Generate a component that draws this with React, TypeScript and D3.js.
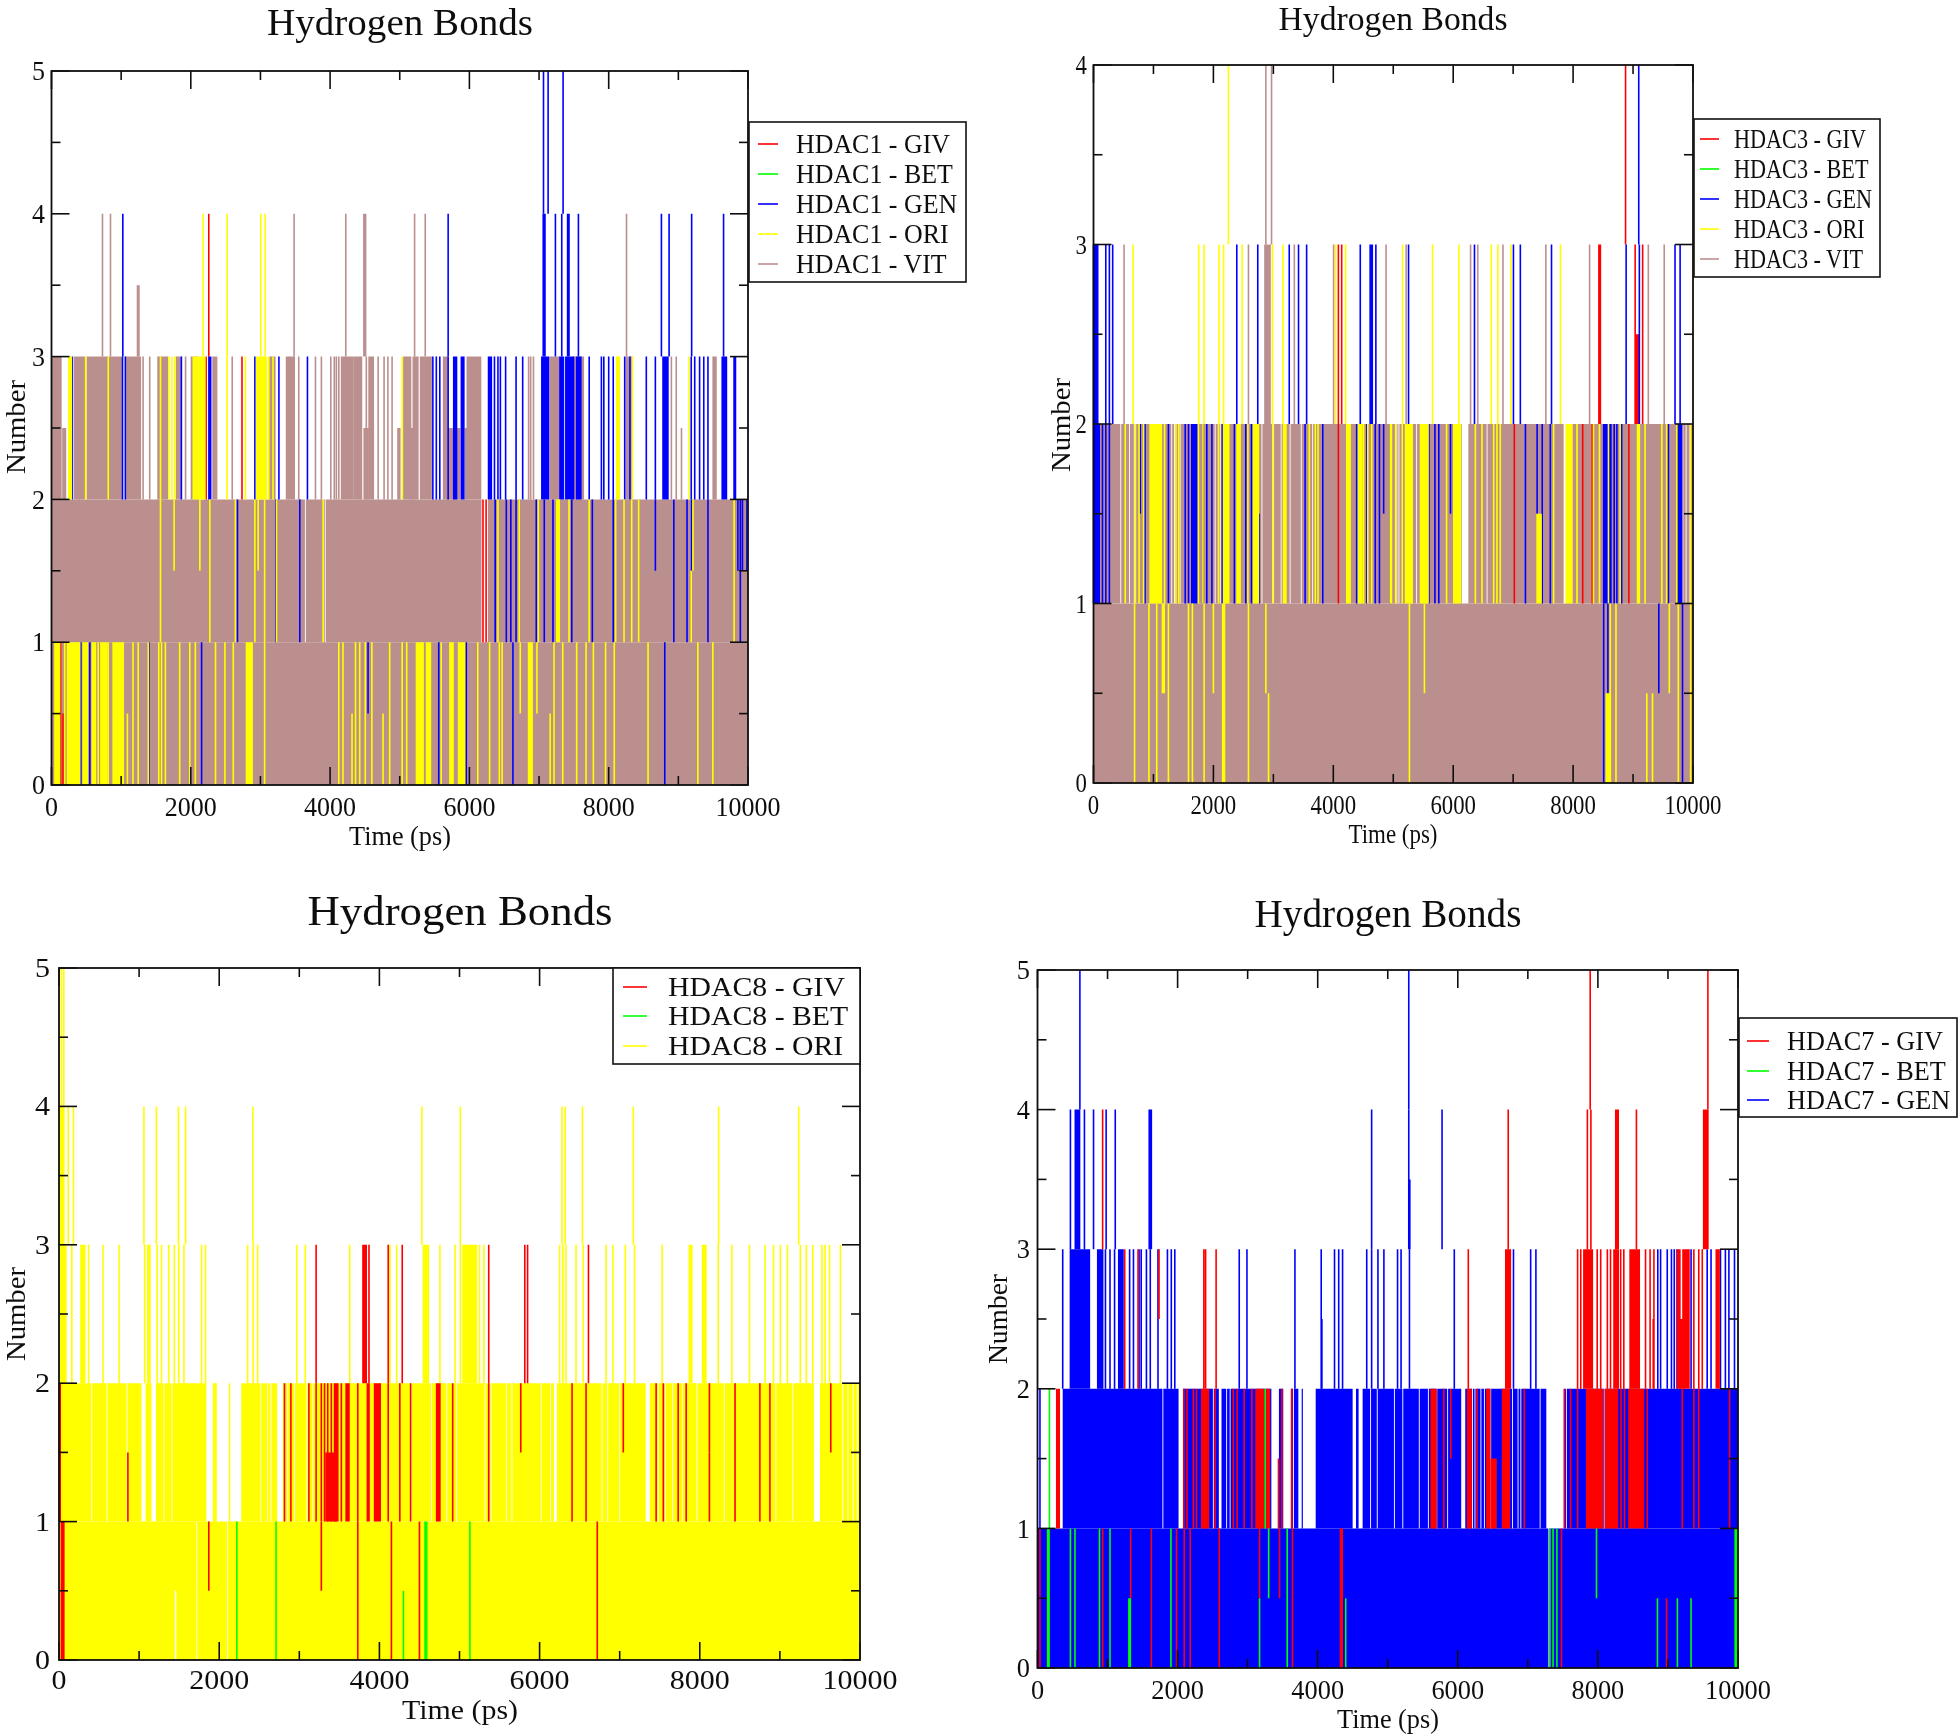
import React from "react";
import * as d3 from "d3";

type Entry = number | [number, number];
const colors: Record<string, string> = { GIV: "#ff0000", BET: "#00ff00", GEN: "#0000ff", ORI: "#ffff00", VIT: "#bc8f8f" };
const xTicks = [0, 2000, 4000, 6000, 8000, 10000];

// ---------- Panel 1 (HDAC1)
const p1Gen45: Entry[] = [7064, 7130, 7345];
const p1Vit34: Entry[] = [732, 847, 3483, 4225, [4485, 4510], 5213, 5366, 8256];
const p1Vit335: Entry[] = [[1235, 1255]];
const p1Gen34: Entry[] = [1024, 5695, [7060, 7085], 7235, 7326, [7410, 7430], 7565, 8757, 8867, 9191, 9649];
const p1Ori34: Entry[] = [2177, 2522, 3005, 3067];
const p1Giv34: Entry[] = [2258];
const p1Vit23: Entry[] = [[10, 70], [85, 135], [335, 385], [405, 470], [515, 935], [950, 1010], [1070, 1275], 1315, 1410, [1530, 1560], [1580, 1665], [1795, 1855], 1925, [2010, 2095], [2320, 2370], 2595, [3135, 3205], [3375, 3485], 3550, 3790, 3875, 4010, 4060, 4090, 4125, [4165, 4330], [4355, 4450], 4520, [4560, 4620], 4690, 4775, 4830, 4890, [5060, 5155], [5195, 5260], [5300, 5450], [5630, 5680], [5970, 6160], 6850, 6880, 6920, [7160, 7280], [7495, 7635], [8255, 8330], 8900, 8970, [9500, 9540]];
const p1Vit225: Entry[] = [[165, 200], [385, 405], [4490, 4545], [4975, 5000], [5155, 5195], [5680, 5860], [5945, 5970], 9045];
const p1Ori23: Entry[] = [[250, 285], 490, 815, 1565, 1685, 1730, 1770, [2035, 2105], [2130, 2200], 2520, 2785, [2945, 3085], 3120, 3180, 5035, [8115, 8150], 8340, 9155];
const p1Gen23: Entry[] = [300, 1020, 1060, 1865, [2260, 2285], 2920, 3265, 3675, 5475, 5525, 5575, 5695, [5775, 5815], [5885, 5920], [6275, 6315], 6360, 6410, 6445, 6520, 6670, 6765, [7040, 7135], [7300, 7350], [7385, 7495], [7540, 7600], 7720, 7895, 7930, 8000, 8065, 8230, 8305, 8540, 8670, [8780, 8850], 9185, 9235, 9305, 9365, 9425, [9630, 9690], [9800, 9820]];
const p1Giv23: Entry[] = [2220, 2735];
const p1VitGaps12: Entry[] = [3645, 3930, [6180, 6260]];
const p1Ori12: Entry[] = [1565, 2273, 2640, 2920, 3060, 3230, 3900, 6410, 6715, 6990, [7255, 7290], 7430, 7720, 8100, 8220, 8330, 8430, 9800];
const p1Ori152: Entry[] = [1760, 2130, 2967, 9210];
const p1Ori115: Entry[] = [9185];
const p1Gen12: Entry[] = [2670, 3220, 3565, 6370, 6530, 6595, 6670, 6960, 7075, 7200, 7470, 7765, 8065, 8935, 9125, 9425, 9890];
const p1Gen152: Entry[] = [8670, 9190, 9855, 9920, 9985];
const p1Giv12: Entry[] = [6195, 6240];
const p1Ori01: Entry[] = [[50, 115], 190, [230, 405], [455, 515], [585, 630], 670, [710, 790], 815, [885, 1030], 1170, 1245, 1390, 1540, 1580, 1635, 1840, 1985, 2065, 2355, 2490, 2610, [2800, 2880], 3060, 4125, 4185, 4365, 4425, 4505, 4600, 4855, 5035, 5100, [5240, 5335], [5385, 5440], 5595, [5720, 5765], [5845, 5930], 6120, 6290, 6430, 6470, [6850, 6900], 7215, 7340, 7540, 7675, 7780, 7955, 8080, 8565, 9280, 9495];
const p1Ori005: Entry[] = [1090, 4315, 4760, 7160];
const p1Ori051: Entry[] = [6730, 6970];
const p1Gen01: Entry[] = [420, 550, 1400, 2155, 5560, 5955, 6625, 8805];
const p1Gen051: Entry[] = [4545];
const p1Giv01: Entry[] = [130];
const p1Giv005: Entry[] = [165];
const p1Bet01: Entry[] = [490];

// ---------- Panel 2 (HDAC3)
const p2Ori34: Entry[] = [2250];
const p2Vit34: Entry[] = [2875, 2970];
const p2Giv34: Entry[] = [8875];
const p2Gen34: Entry[] = [9095];
const p2Gen23: Entry[] = [[0, 70], 205, 265, 320, 2390, 2740, 3265, 3420, 3555, 4450, [4615, 4650], 4710, 5255, 6355, 7005, 7120, 7640, 8885, 9105, 9700, 9785];
const p2Vit23: Entry[] = [510, 2585, [2860, 2945], 3350, 4005, 4880, 5215, 6290, 6410, 6830, 7545, 8275, 9255, 9520];
const p2Ori23: Entry[] = [660, 1755, 1845, 2095, 2170, 2480, 2985, 3160, 4040, 4205, 5155, 5655, 6095, 6635, 6745, 6965, 7790];
const p2Giv23: Entry[] = [4085, 4140, [8430, 8455], 9035, 9160];
const p2Giv225: Entry[] = [[9050, 9090]];
const p2VitGaps12: Entry[] = [455, 600, 680, 1305, 1350, 1445, 2030, 2115, 2810, 2990, 3130, 3280, 3465, 3655, 3825, 5060, 5095, 5390, [6150, 6245], 6565, [7850, 7880], 9775, 9830, 9885, 9950];
const p2Ori12: Entry[] = [530, 700, 760, 835, [945, 1130], 1185, 1375, 1420, 1750, 1825, 2085, [2170, 2255], [2395, 2445], 2575, [2670, 2750], 3000, [3170, 3210], 3600, 3700, 3745, [4225, 4280], [4420, 4475], 4505, 4575, 4640, 4950, 4970, 5040, 5150, [5205, 5315], [5455, 5580], 5890, [6010, 6120], 6370, 6480, 6675, 6730, 6785, 7675, [7885, 7980], 8065, 8340, 8440, 8590, 8785, [9075, 9105], 9200, 9480, 9560, 9730, 9960];
const p2Ori115: Entry[] = [[7400, 7465]];
const p2Gen12: Entry[] = [[0, 70], 95, 150, 205, 265, 860, 1250, 1530, 1585, [1640, 1725], 1825, 1890, 1975, 2150, 2350, 2540, 2635, 3530, 3825, 4390, 4560, 4700, 4770, 4950, 5595, 5695, 5760, 7205, 7485, 7620, [8510, 8630], 8685, 8730, 8810, 9590, [9740, 9810]];
const p2Gen152: Entry[] = [780, 4840, 5955, 7400];
const p2Gen115: Entry[] = [2765];
const p2Giv12: Entry[] = [4085, 7020, 8160, 8320, 8930];
const p2Ori01: Entry[] = [685, 925, 1055, 1250, 1585, 1650, 1845, [2155, 2185], 2585, 5270, 8620, 8715, 9755, 9960];
const p2Ori051: Entry[] = [[1150, 1180], 2000, 2875, 5520, 9605];
const p2Ori005: Entry[] = [2920, [8555, 8620], 9230, 9325];
const p2Gen01: Entry[] = [8510, 9825];
const p2Gen051: Entry[] = [8580, 9430];

// ---------- Panel 3 (HDAC8)
const p3Ori45: Entry[] = [30, 60];
const p3Ori34: Entry[] = [[0, 60], 115, 180, 1060, 1215, 1490, 1580, 2420, 4530, 5010, 6280, 6320, 6535, 7170, 8235, 9235];
const p3Ori23: Entry[] = [[10, 75], 85, 160, [275, 320], 370, 550, 750, 1070, [1110, 1135], 1225, 1280, 1370, 1440, 1495, 1560, 1780, 1830, 2355, 2425, 2480, 2970, 3075, 3630, 4130, 4215, [4550, 4610], 4755, 4945, 5010, [5045, 5210], 5250, 5305, 6250, 6290, 6330, 6455, 6545, 6830, 6915, 7070, 7185, 7530, [7870, 7900], [8035, 8075], 8230, 8400, 8620, 8815, 8920, 9005, 9095, 9255, 9330, 9410, 9525, 9565, 9620, 9755];
const p3Giv23: Entry[] = [3210, [3795, 3835], 3870, 4110, 4285, 5365, 5815, 5850, 6610];
const p3OriGaps12: Entry[] = [410, 600, 850, [1035, 1075], [1160, 1205], 1310, 1410, [1845, 1915], [1975, 2115], [2145, 2270], 2520, 2605, 2645, [2730, 2790], 2855, 2940, 3095, 3170, 4400, 4650, 4840, 4965, 5320, 5395, 5585, 5655, 6020, 6135, [6185, 6210], 6780, 6850, 7000, [7330, 7370], 7480, 7570, 7660, 7785, 7965, 8305, 8950, 9160, [9430, 9495], 9785, 9850, 9915, 9965];
const p3Giv12: Entry[] = [[0, 15], 2815, 2895, 3120, 3210, 3275, 3315, 3355, 3400, [3440, 3480], 3525, [3585, 3620], 3730, [3850, 3870], [3940, 4010], 4110, 4255, 4390, [4715, 4755], 4915, 5365, 6405, 6580, 7455, 7545, 7730, 7830, 8440, 8750, 8875];
const p3Giv115: Entry[] = [860, [3335, 3460], 8120];
const p3Giv152: Entry[] = [5765, 7045, 8120, 9635];
const p3OriGaps01: Entry[] = [1720, 2105];
const p3White005: Entry[] = [1455];
const p3Giv01: Entry[] = [[30, 60], 3730, 4150, 4500, 6720];
const p3Giv051: Entry[] = [1870, 3275];
const p3Bet01: Entry[] = [2220, 2710, [4570, 4590], 5130];
const p3Bet005: Entry[] = [4300];

// ---------- Panel 4 (HDAC7)
const p4Gen45: Entry[] = [605, 5300];
const p4Giv45: Entry[] = [7890, 9570];
const p4Gen34: Entry[] = [470, [540, 600], 670, 800, 980, 1110, [1595, 1625], 4770, 5775, 5300];
const p4Gen335: Entry[] = [5315];
const p4Giv34: Entry[] = [930, 6720, 7850, 7900, [8255, 8290], 8550, [9510, 9570]];
const p4Gen23: Entry[] = [360, [470, 720], 740, [860, 930], 970, 1035, 1100, [1160, 1220], 1315, 1370, 1450, 1480, 1555, 1610, 1720, 1855, 1910, 1960, 2880, 2990, 3675, 4050, 4240, 4300, 4355, 4700, 4770, 4860, 4945, 5140, 5190, 5310, 5950, 6795, 7040, 7115, 8855, 8895, 8990, 9050, 9090, 9130, 9330, 9560, 9615, 9750, 9820, 9870, 9950];
const p4Gen225: Entry[] = [4060];
const p4Giv23: Entry[] = [1245, 1435, 2375, 2400, 2550, 6150, [6685, 6750], 7710, 7755, [7800, 7920], 7990, 8040, 8135, 8180, [8230, 8290], 8325, 8370, [8460, 8590], 8680, 8745, 8800, [9135, 9170], [9215, 9300], 9370, 9440, 9490, [9690, 9730]];
const p4Giv253: Entry[] = [1735];
const p4Giv225: Entry[] = [8790, [9170, 9215]];
const p4GenGaps12: Entry[] = [1790, [2020, 2070], 2510, [2595, 2620], 2700, 2750, [3345, 3440], [3515, 3610], 3655, [3730, 3765], [3795, 3965], [4505, 4540], [4590, 4635], 4755, 4850, 5095, 5215, 5450, 5580, 5700, 5855, [6055, 6100], 6165, 6210, 6245, 6330, 6380, 6470, 6780, 6860, 6900, 7175, [7270, 7520], 7550, 8090];
const p4Gen12: Entry[] = [35];
const p4Giv12: Entry[] = [[275, 310], 2090, 2135, 2225, 2270, [2345, 2440], 2535, 2795, 2850, 2950, 3060, [3120, 3225], [3275, 3310], 3490, 3630, [5620, 5690], 5800, [6140, 6190], 6275, [6415, 6455], [6640, 6735], 6950, 7520, 7610, 7710, [7840, 8065], [8110, 8280], 8330, 8380, [8445, 8650], 8705, 9205, 9370, 9440, 9880];
const p4Giv115: Entry[] = [3440, [6480, 6545]];
const p4Giv152: Entry[] = [5900];
const p4Bet12: Entry[] = [170, 3250];
const p4GenGaps01: Entry[] = [7300];
const p4Giv01: Entry[] = [35, 930, 1625, 1985, 2095, 2180, 2595, 3640, [4325, 4350], 7480];
const p4Giv051: Entry[] = [1330, 3170, 3455];
const p4Giv005: Entry[] = [8980];
const p4Bet01: Entry[] = [[145, 165], 470, 535, 885, 1035, 1905, 3565, 7315, 7360, 7415, [9960, 9990]];
const p4Bet005: Entry[] = [[1305, 1325], 3170, 4400, 8850, 9135, 9330];
const p4Bet051: Entry[] = [3300, 7980];

type Layer = { key: string; lo: number; hi: number; spikes?: Entry[]; gaps?: Entry[]; from?: number };
const S = (key: string, lo: number, hi: number, spikes: Entry[]): Layer => ({ key, lo, hi, spikes });
const F = (key: string, lo: number, hi: number, gaps: Entry[], from = 0): Layer => ({ key, lo, hi, gaps, from });

const panels = [
  {
    ymax: 5, names: ["HDAC1 - GIV", "HDAC1 - BET", "HDAC1 - GEN", "HDAC1 - ORI", "HDAC1 - VIT"], keys: ["GIV", "BET", "GEN", "ORI", "VIT"],
    box: { l: 51.5, r: 748, t: 71, b: 785 }, font: 28,
    title: { x: 400, y: 35, w: 266, fs: 38 }, time: { x: 400, y: 845, w: 102 }, num: { x: 25, y: 427, w: 94 }, tickY: 816, tickR: 45, tickW: 65,
    legend: { l: 749, r: 966, t: 122, b: 282, x0: 758, x1: 778, tx: 796, tw: 154, rows: [144, 174, 204, 234, 264] },
    layers: [
      F("VIT", 0, 1, []), F("VIT", 1, 2, p1VitGaps12), S("VIT", 2, 3, p1Vit23), S("VIT", 2, 2.5, p1Vit225), S("VIT", 3, 4, p1Vit34), S("VIT", 3, 3.5, p1Vit335),
      S("GIV", 0, 1, p1Giv01), S("GIV", 0, 0.5, p1Giv005), S("GIV", 1, 2, p1Giv12), S("GIV", 2, 3, p1Giv23), S("GIV", 3, 4, p1Giv34),
      S("BET", 0, 1, p1Bet01),
      S("GEN", 0, 1, p1Gen01), S("GEN", 0.5, 1, p1Gen051), S("GEN", 1, 2, p1Gen12), S("GEN", 1.5, 2, p1Gen152), S("GEN", 2, 3, p1Gen23), S("GEN", 3, 4, p1Gen34), S("GEN", 4, 5, p1Gen45),
      S("ORI", 0, 1, p1Ori01), S("ORI", 0, 0.5, p1Ori005), S("ORI", 0.5, 1, p1Ori051), S("ORI", 1, 2, p1Ori12), S("ORI", 1.5, 2, p1Ori152), S("ORI", 1, 1.5, p1Ori115), S("ORI", 2, 3, p1Ori23), S("ORI", 3, 4, p1Ori34),
    ] as Layer[],
  },
  {
    ymax: 4, names: ["HDAC3 - GIV", "HDAC3 - BET", "HDAC3 - GEN", "HDAC3 - ORI", "HDAC3 - VIT"], keys: ["GIV", "BET", "GEN", "ORI", "VIT"],
    box: { l: 1093.5, r: 1693, t: 65, b: 783 }, font: 28,
    title: { x: 1393, y: 30, w: 229, fs: 33 }, time: { x: 1393, y: 843, w: 89 }, num: { x: 1070, y: 425, w: 94 }, tickY: 814, tickR: 1087, tickW: 57,
    legend: { l: 1694, r: 1880, t: 119, b: 277, x0: 1700, x1: 1719, tx: 1734, tw: 132, rows: [139, 169, 199, 229, 259] },
    layers: [
      F("VIT", 0, 1, []), F("VIT", 1, 2, p2VitGaps12), S("VIT", 2, 3, p2Vit23), S("VIT", 3, 4, p2Vit34),
      S("GIV", 1, 2, p2Giv12), S("GIV", 2, 3, p2Giv23), S("GIV", 2, 2.5, p2Giv225), S("GIV", 3, 4, p2Giv34),
      S("GEN", 0, 1, p2Gen01), S("GEN", 0.5, 1, p2Gen051), S("GEN", 1, 2, p2Gen12), S("GEN", 1.5, 2, p2Gen152), S("GEN", 1, 1.5, p2Gen115), S("GEN", 2, 3, p2Gen23), S("GEN", 3, 4, p2Gen34),
      S("ORI", 0, 1, p2Ori01), S("ORI", 0.5, 1, p2Ori051), S("ORI", 0, 0.5, p2Ori005), S("ORI", 1, 2, p2Ori12), S("ORI", 1, 1.5, p2Ori115), S("ORI", 2, 3, p2Ori23), S("ORI", 3, 4, p2Ori34),
    ] as Layer[],
  },
  {
    ymax: 5, names: ["HDAC8 - GIV", "HDAC8 - BET", "HDAC8 - ORI"], keys: ["GIV", "BET", "ORI"],
    box: { l: 59, r: 860, t: 968, b: 1660 }, font: 27,
    title: { x: 460, y: 925, w: 305, fs: 42 }, time: { x: 460, y: 1719, w: 116 }, num: { x: 25, y: 1314, w: 94 }, tickY: 1689, tickR: 50, tickW: 75,
    legend: { l: 613, r: 860, t: 968, b: 1064, x0: 623, x1: 647, tx: 668, tw: 177, rows: [987, 1016, 1046] },
    layers: [
      F("ORI", 0, 1, p3OriGaps01), F("ORI", 1, 2, p3OriGaps12), S("ORI", 2, 3, p3Ori23), S("ORI", 3, 4, p3Ori34), S("ORI", 4, 5, p3Ori45),
      S("WHITE", 0, 0.5, p3White005),
      S("GIV", 0, 1, p3Giv01), S("GIV", 0.5, 1, p3Giv051), S("GIV", 1, 2, p3Giv12), S("GIV", 1, 1.5, p3Giv115), S("GIV", 1.5, 2, p3Giv152), S("GIV", 2, 3, p3Giv23),
      S("BET", 0, 1, p3Bet01), S("BET", 0, 0.5, p3Bet005),
    ] as Layer[],
  },
  {
    ymax: 5, names: ["HDAC7 - GIV", "HDAC7 - BET", "HDAC7 - GEN"], keys: ["GIV", "BET", "GEN"],
    box: { l: 1037.5, r: 1738, t: 970, b: 1668 }, font: 28,
    title: { x: 1388, y: 927, w: 267, fs: 40 }, time: { x: 1388, y: 1728, w: 102 }, num: { x: 1007, y: 1319, w: 90 }, tickY: 1699, tickR: 1030, tickW: 66,
    legend: { l: 1739, r: 1957, t: 1018, b: 1117, x0: 1747, x1: 1769, tx: 1787, tw: 156, rows: [1041, 1071, 1100] },
    layers: [
      F("GEN", 0, 1, p4GenGaps01), F("GEN", 1, 2, p4GenGaps12, 360), S("GEN", 1, 2, p4Gen12), S("GEN", 2, 3, p4Gen23), S("GEN", 2, 2.5, p4Gen225), S("GEN", 3, 4, p4Gen34), S("GEN", 3, 3.5, p4Gen335), S("GEN", 4, 5, p4Gen45),
      S("GIV", 0, 1, p4Giv01), S("GIV", 0.5, 1, p4Giv051), S("GIV", 0, 0.5, p4Giv005), S("GIV", 1, 2, p4Giv12), S("GIV", 1, 1.5, p4Giv115), S("GIV", 1.5, 2, p4Giv152), S("GIV", 2, 3, p4Giv23), S("GIV", 2.5, 3, p4Giv253), S("GIV", 2, 2.5, p4Giv225), S("GIV", 3, 4, p4Giv34), S("GIV", 4, 5, p4Giv45),
      S("BET", 0, 1, p4Bet01), S("BET", 0, 0.5, p4Bet005), S("BET", 0.5, 1, p4Bet051), S("BET", 1, 2, p4Bet12),
    ] as Layer[],
  },
];

const LW = 1.6;
const GAP = 0.9;
const EM_WIDTH = 5.943; // width of "HDAC1 - GIV" in em, Liberation Serif
const span = (e: Entry): [number, number] => (typeof e === "number" ? [e, e] : e);

function layerPath(l: Layer, x: d3.ScaleLinear<number, number>, y: d3.ScaleLinear<number, number>) {
  const p = d3.path();
  const top = y(l.hi), h = y(l.lo) - y(l.hi);
  if (l.spikes) {
    for (const e of l.spikes) {
      const [a, b] = span(e);
      p.rect(x(a) - LW / 2, top, x(b) - x(a) + LW, h);
    }
  } else {
    let cur = x(l.from ?? 0);
    for (const e of l.gaps ?? []) {
      const [a, b] = span(e);
      const x0 = x(a) - GAP / 2;
      if (x0 > cur) p.rect(cur, top, x0 - cur, h);
      cur = x(b) + GAP / 2;
    }
    p.rect(cur, top, x(10000) - cur, h);
  }
  return p.toString();
}

function Panel({ cfg }: { cfg: (typeof panels)[number] }) {
  const { box, legend: lg, font } = cfg;
  const x = d3.scaleLinear().domain([0, 10000]).range([box.l, box.r]);
  const y = d3.scaleLinear().domain([0, cfg.ymax]).range([box.b, box.t]);
  const yMaj = d3.range(0, cfg.ymax + 1);
  const yMin = d3.range(0.5, cfg.ymax, 1);
  const xMin = d3.range(1000, 10000, 2000);
  const ink = "#111";
  const sx = lg.tw / (EM_WIDTH * font);
  return (
    <g>
      {cfg.layers.map((l, i) => (
        <path key={i} d={layerPath(l, x, y)} fill={l.key === "WHITE" ? "#fff" : colors[l.key]} />
      ))}
      <g stroke={ink} strokeWidth={1.6}>
        {xTicks.map((t) => (
          <g key={t}>
            <line x1={x(t)} x2={x(t)} y1={box.b} y2={box.b - 18} />
            <line x1={x(t)} x2={x(t)} y1={box.t} y2={box.t + 18} />
          </g>
        ))}
        {xMin.map((t) => (
          <g key={t}>
            <line x1={x(t)} x2={x(t)} y1={box.b} y2={box.b - 9} />
            <line x1={x(t)} x2={x(t)} y1={box.t} y2={box.t + 9} />
          </g>
        ))}
        {yMaj.map((t) => (
          <g key={t}>
            <line y1={y(t)} y2={y(t)} x1={box.l} x2={box.l + 18} />
            <line y1={y(t)} y2={y(t)} x1={box.r} x2={box.r - 18} />
          </g>
        ))}
        {yMin.map((t) => (
          <g key={t}>
            <line y1={y(t)} y2={y(t)} x1={box.l} x2={box.l + 9} />
            <line y1={y(t)} y2={y(t)} x1={box.r} x2={box.r - 9} />
          </g>
        ))}
      </g>
      <rect x={box.l} y={box.t} width={box.r - box.l} height={box.b - box.t} fill="none" stroke={ink} strokeWidth={1.8} />
      <g fill={ink} fontFamily="'Liberation Serif', serif">
        <text x={cfg.title.x} y={cfg.title.y} fontSize={cfg.title.fs} textAnchor="middle" textLength={cfg.title.w} lengthAdjust="spacingAndGlyphs">Hydrogen Bonds</text>
        {xTicks.map((t) => (
          <text key={t} x={x(t)} y={cfg.tickY} fontSize={font} textAnchor="middle" textLength={(cfg.tickW * String(t).length) / 5} lengthAdjust="spacingAndGlyphs">{t}</text>
        ))}
        {yMaj.map((t) => (
          <text key={t} x={cfg.tickR} y={y(t) + font * 0.33} fontSize={font} textAnchor="end" textLength={cfg.tickW / 5} lengthAdjust="spacingAndGlyphs">{t}</text>
        ))}
        <text x={cfg.time.x} y={cfg.time.y} fontSize={font} textAnchor="middle" textLength={cfg.time.w} lengthAdjust="spacingAndGlyphs">Time (ps)</text>
        <text transform={`translate(${cfg.num.x},${cfg.num.y}) rotate(-90)`} fontSize={font} textAnchor="middle" textLength={cfg.num.w} lengthAdjust="spacingAndGlyphs">Number</text>
      </g>
      <rect x={lg.l} y={lg.t} width={lg.r - lg.l} height={lg.b - lg.t} fill="#fff" stroke={ink} strokeWidth={1.6} />
      {cfg.names.map((n, i) => (
        <g key={n}>
          <line x1={lg.x0} x2={lg.x1} y1={lg.rows[i]} y2={lg.rows[i]} stroke={colors[cfg.keys[i]]} strokeWidth={1.6} />
          <text transform={`translate(${lg.tx},${lg.rows[i] + font * 0.33}) scale(${sx},1)`} fontSize={font} fill={ink} fontFamily="'Liberation Serif', serif">{n}</text>
        </g>
      ))}
    </g>
  );
}

export default function App() {
  return (
    <svg width={1959} height={1734} viewBox="0 0 1959 1734" style={{ position: "absolute", left: 0, top: 0, background: "#fff" }}>
      <defs>
        <filter id="soft" x="0" y="0" width="1959" height="1734" filterUnits="userSpaceOnUse" primitiveUnits="userSpaceOnUse">
          <feGaussianBlur stdDeviation="0.5" />
        </filter>
      </defs>
      <g filter="url(#soft)">
        <rect width={1959} height={1734} fill="#fff" />
        {panels.map((p, i) => <Panel key={i} cfg={p} />)}
      </g>
    </svg>
  );
}
